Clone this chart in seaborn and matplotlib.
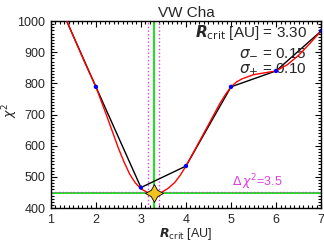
import numpy as np
import pandas as pd
import seaborn as sns
import matplotlib.pyplot as plt
from matplotlib.ticker import MultipleLocator

# chi2 values at the sampled critical radii
r_crit = [1, 2, 3, 4, 5, 6, 7]
chi2 = [1114, 789, 466, 535, 789, 840, 968]

# smooth (red) curve
r_fit = [1.25, 1.5, 1.75, 2.0, 2.25, 2.5, 2.625, 2.75, 2.875, 3.0, 3.15, 3.3,
         3.45, 3.6, 3.75, 3.875, 4.0, 4.25, 4.5, 4.75, 4.875, 5.0, 5.125, 5.25,
         5.5, 5.75, 6.0, 6.25, 6.5, 6.75, 7.0]
chi2_fit = [1035, 951, 868, 789, 692, 592, 548, 509, 481, 462, 450, 447,
            450, 463, 482, 506, 535, 601, 668, 735, 764, 789, 805, 815,
            828, 834, 840, 860, 890, 928, 968]

best_r = 3.30
sig_minus = 0.15
sig_plus = 0.10
chi2_min = 447
delta_chi2 = 3.5

sns.set_theme(style='ticks')
plt.rcParams['font.family'] = ['Liberation Sans', 'DejaVu Sans']
plt.rcParams['mathtext.fontset'] = 'dejavusans'

fig = plt.figure(figsize=(3.24, 2.42), dpi=100)
ax = fig.add_axes([0.157, 0.140, 0.834, 0.773])

pts = pd.DataFrame({'r': r_crit, 'chi2': chi2})
fit = pd.DataFrame({'r': r_fit, 'chi2': chi2_fit})

sns.lineplot(data=pts, x='r', y='chi2', color='black', lw=1.0, ax=ax, zorder=3)
sns.lineplot(data=fit, x='r', y='chi2', color='red', lw=1.0, ax=ax, zorder=4)
sns.scatterplot(data=pts, x='r', y='chi2', color='blue', s=10, edgecolor='none', ax=ax, zorder=5)

# best value and uncertainty range
ax.axvline(best_r, color='#00e600', lw=1.3, zorder=2)
ax.axhline(chi2_min, color='#00e600', lw=1.3, zorder=2)
ax.axvline(best_r - sig_minus, color='#e040e0', lw=1.0, ls=':', zorder=2)
ax.axvline(best_r + sig_plus, color='#e040e0', lw=1.0, ls=':', zorder=2)
ax.axhline(chi2_min + delta_chi2, color='#e040e0', lw=1.0, ls=':', zorder=2)
ax.plot([best_r], [chi2_min], marker=(4, 1, 0), ms=13, color='#f2c21e',
        mec='black', mew=0.6, zorder=6, clip_on=False)

ax.set_xlim(1, 7)
ax.set_ylim(400, 1000)
ax.xaxis.set_major_locator(MultipleLocator(1))
ax.xaxis.set_minor_locator(MultipleLocator(0.1))
ax.yaxis.set_major_locator(MultipleLocator(100))
ax.yaxis.set_minor_locator(MultipleLocator(10))
ax.tick_params(which='both', direction='in', top=True, right=True,
               labelsize=9, color='black', width=0.8, pad=4)
ax.tick_params(which='major', length=4)
ax.tick_params(which='minor', length=2)
for s in ax.spines.values():
    s.set_color('black')
    s.set_linewidth(1.0)

ax.set_xlabel(r'$\mathbfit{R}_{\rm crit}$ [AU]', fontsize=9)
ax.set_ylabel(r'$\chi^2$', fontsize=9)
ax.xaxis.set_label_coords(0.5, -0.095)
ax.yaxis.set_label_coords(-0.115, 0.52)
ax.set_title('VW Cha', fontsize=11, pad=3)

ax.text(0.947, 0.94, r'$\mathbfit{R}_{\rm crit}$ [AU] = 3.30', transform=ax.transAxes,
        ha='right', va='center', fontsize=11)
ax.text(0.947, 0.834, r'$\sigma_{-}$ = 0.15', transform=ax.transAxes,
        ha='right', va='center', fontsize=11)
ax.text(0.947, 0.738, r'$\sigma_{+}$ = 0.10', transform=ax.transAxes,
        ha='right', va='center', fontsize=11)
ax.text(5.02, chi2_min + 4, r'$\Delta\,\chi^2$=3.5', color='#e040e0',
        ha='left', va='bottom', fontsize=9)

fig.savefig('out.png', dpi=100)
